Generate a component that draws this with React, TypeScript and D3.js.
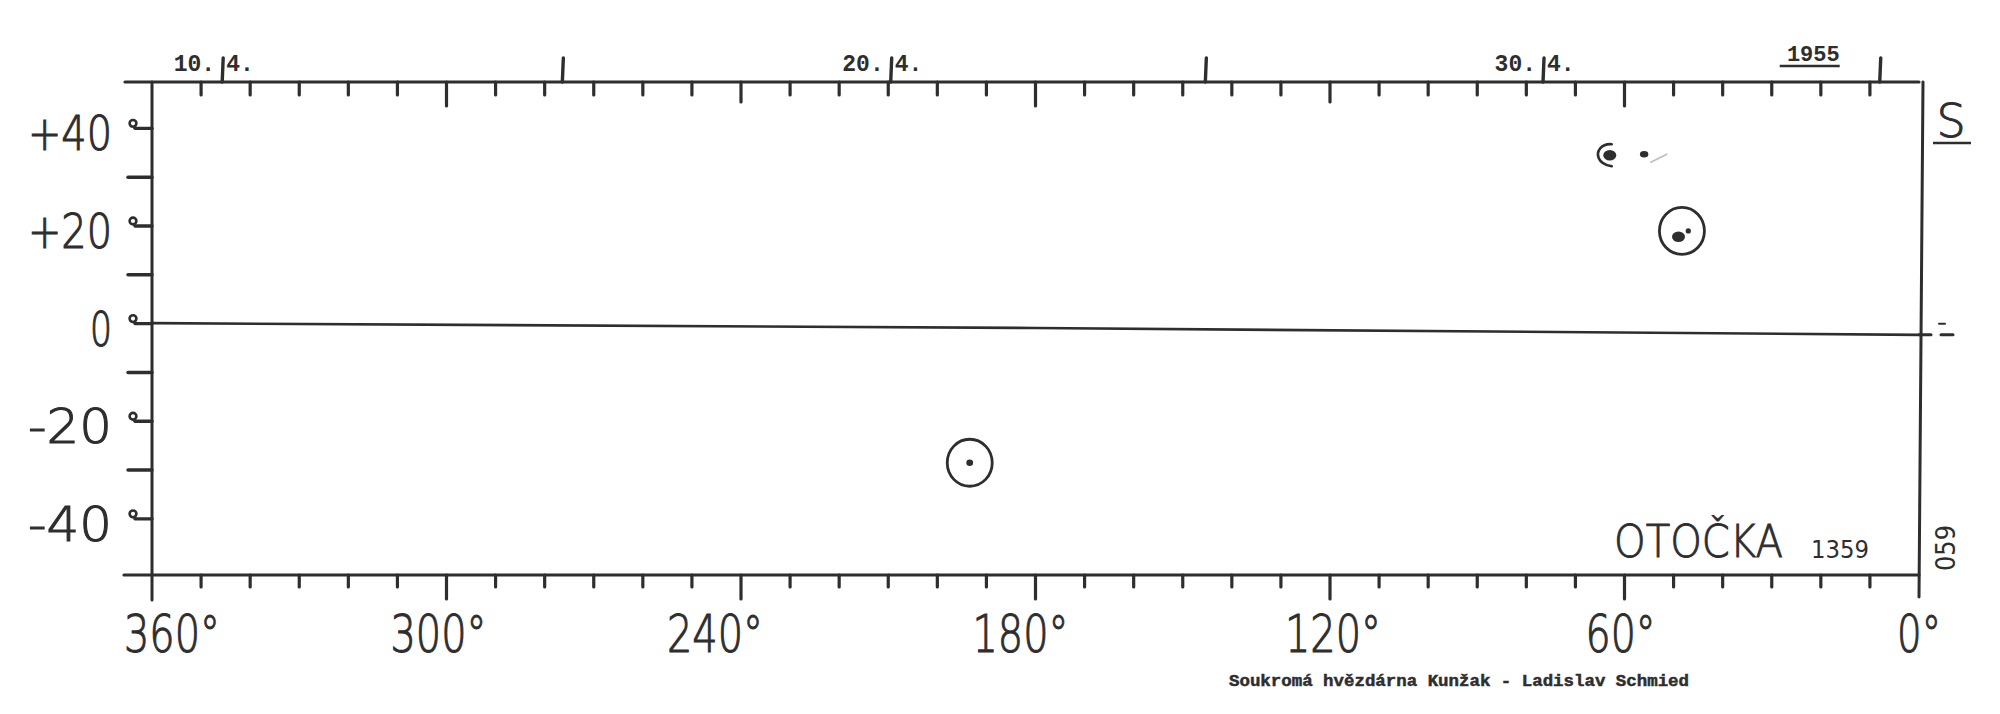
import React from "react";
import * as d3 from "d3";

// ---------- data ----------
const lonLabels = [360, 300, 240, 180, 120, 60, 0];
const lonMinorTicks = [350, 340, 330, 320, 310, 290, 280, 270, 260, 250, 230, 220, 210, 200, 190, 170, 160, 150, 140, 130, 110, 100, 90, 80, 70, 50, 40, 30, 20, 10];
const topLongTicks = [300, 180, 60];
const topMediumTicks = [240, 120];
const latLabels = [40, 20, 0, -20, -40];
const latMinorTicks = [30, 10, -10, -30];

// day markers (Carrington longitude of central meridian at 0h of the date)
const dayMarkerLon = [345.7, 276.4, 209.5, 145.4, 76.6, 8.0];
const dayMarkerDay = ["10.", "", "20.", "", "30.", ""];
const dayMarkerMonth = ["4.", "", "4.", "", "4.", ""];
const yearLabel = "1955";

// equator as traced on the sheet
const equatorLon = [360, 180, 0];
const equatorLat = [0.1, -0.9, -2.3];

// sunspot groups
const circledLon = [48.3, 193.4];
const circledLat = [19.0, -28.5];
const umbraLon = [49.0, 47.0, 63.0, 56.0, 193.4];
const umbraLat = [17.8, 19.0, 34.5, 34.7, -28.5];
const umbraKind = ["large", "small", "large", "medium", "dot"];
const penumbraLon = [63.0];
const penumbraLat = [34.5];
const trailLon = [53.0];
const trailLat = [34.3];

const sheetTitle = "OTOČKA";
const rotationNo = "1359";
const sideMark = "S";
const sheetNo = "059";
const caption = "Soukromá hvězdárna Kunžak - Ladislav Schmied";

// ---------- styles ----------
const INK = "#2e2e2e";
const DIN = "'DejaVu Sans','Liberation Sans',sans-serif";
const MONO = "'Liberation Mono','DejaVu Sans Mono',monospace";
const umbraSize: Record<string, [number, number]> = {
  large: [6.5, 5.2],
  medium: [4.2, 3.2],
  small: [2.6, 2.6],
  dot: [3.4, 3.2],
};
// hand-lettering offsets of the longitude labels (px)
const LABEL_NUDGE: Record<number, number> = { 360: 20, 300: -8, 240: -26, 180: -15, 120: 3, 60: -4, 0: 0 };

export default function App() {
  const W = 2000;
  const H = 714;
  const x = d3.scaleLinear().domain([360, 0]).range([152, 1919]);
  const y = d3.scaleLinear().domain([-51.5, 49.5]).range([575, 82]);

  const top = y(49.5);
  const bottom = y(-51.5);
  const left = x(360);
  const right = x(0);

  const eqPts = equatorLon.map((l, i) => [x(l), y(equatorLat[i])] as [number, number]);
  const eqLine = d3.line()(eqPts) || "";
  const lastEq = eqPts[eqPts.length - 1];
  const lastMarkerX = x(dayMarkerLon[dayMarkerLon.length - 1]);

  return (
    <svg
      width={W}
      height={H}
      viewBox={`0 0 ${W} ${H}`}
      style={{ position: "absolute", left: 0, top: 0, background: "#fff" }}
    >
      <rect x={0} y={0} width={W} height={H} fill="#fff" />
      <g stroke={INK} fill="none" strokeLinecap="round">
        {/* frame */}
        <line x1={left - 27} y1={top} x2={right} y2={top} strokeWidth={3.2} />
        <line x1={left - 28} y1={bottom} x2={right} y2={bottom} strokeWidth={3.2} />
        <line x1={left} y1={top} x2={left} y2={bottom + 25} strokeWidth={3} />
        <line x1={right + 4} y1={top} x2={right} y2={bottom + 22} strokeWidth={3} />

        {/* equator */}
        <path d={eqLine} strokeWidth={2.6} />
        <line x1={lastEq[0]} y1={lastEq[1]} x2={lastEq[0] + 12} y2={lastEq[1]} strokeWidth={3} />
        <line x1={lastEq[0] + 22} y1={lastEq[1]} x2={lastEq[0] + 34} y2={lastEq[1]} strokeWidth={3} />
        <line x1={lastEq[0] + 20} y1={lastEq[1] - 11} x2={lastEq[0] + 26} y2={lastEq[1] - 11} strokeWidth={2} />

        {/* bottom ticks */}
        {lonMinorTicks.map((l) => (
          <line key={"bm" + l} x1={x(l)} y1={bottom} x2={x(l)} y2={bottom + 12} strokeWidth={3.2} />
        ))}
        {lonLabels.filter((l) => l !== 360 && l !== 0).map((l) => (
          <line key={"bl" + l} x1={x(l)} y1={bottom} x2={x(l)} y2={bottom + 24} strokeWidth={3.2} />
        ))}

        {/* top ticks */}
        {lonMinorTicks.map((l) => (
          <line key={"tm" + l} x1={x(l)} y1={top} x2={x(l)} y2={top + 13} strokeWidth={3.2} />
        ))}
        {topMediumTicks.map((l) => (
          <line key={"tmd" + l} x1={x(l)} y1={top} x2={x(l)} y2={top + 20} strokeWidth={3.2} />
        ))}
        {topLongTicks.map((l) => (
          <line key={"tl" + l} x1={x(l)} y1={top} x2={x(l)} y2={top + 24} strokeWidth={3.2} />
        ))}
        {/* day markers (upwards) */}
        {dayMarkerLon.map((l, i) => (
          <line key={"dm" + i} x1={x(l)} y1={top} x2={x(l) + 1} y2={top - 24} strokeWidth={3.4} />
        ))}

        {/* latitude ticks */}
        {latMinorTicks.map((b) => (
          <line key={"ym" + b} x1={left - 24} y1={y(b)} x2={left} y2={y(b)} strokeWidth={3.4} />
        ))}
        {latLabels.map((b) => (
          <g key={"yl" + b}>
            <line x1={left - 17} y1={y(b)} x2={left} y2={y(b)} strokeWidth={3.4} />
            <circle cx={left - 19} cy={y(b) - 5} r={3.4} strokeWidth={2.6} />
          </g>
        ))}

        {/* circled groups */}
        {circledLon.map((l, i) => (
          <ellipse key={"cg" + i} cx={x(l)} cy={y(circledLat[i])} rx={22.5} ry={23.5} strokeWidth={2.8} />
        ))}
        {/* penumbra outline */}
        {penumbraLon.map((l, i) => (
          <path
            key={"pn" + i}
            d={`M${x(l) + 2},${y(penumbraLat[i]) - 11} C${x(l) - 8},${y(penumbraLat[i]) - 12} ${x(l) - 14},${y(penumbraLat[i]) - 4} ${x(l) - 11},${y(penumbraLat[i]) + 3} C${x(l) - 9},${y(penumbraLat[i]) + 8} ${x(l) - 4},${y(penumbraLat[i]) + 10} ${x(l) + 2},${y(penumbraLat[i]) + 11}`}
            strokeWidth={2.6}
          />
        ))}
        {trailLon.map((l, i) => (
          <path
            key={"tr" + i}
            d={`M${x(l) - 8},${y(trailLat[i]) + 6} Q${x(l)},${y(trailLat[i]) + 2} ${x(l) + 8},${y(trailLat[i]) - 2}`}
            stroke="#bdbdbd"
            strokeWidth={1.6}
          />
        ))}
      </g>

      {/* umbrae */}
      <g fill={INK}>
        {umbraLon.map((l, i) => (
          <ellipse
            key={"u" + i}
            cx={x(l)}
            cy={y(umbraLat[i])}
            rx={umbraSize[umbraKind[i]][0]}
            ry={umbraSize[umbraKind[i]][1]}
          />
        ))}
      </g>

      {/* longitude labels */}
      <g fill={INK} stroke={INK} strokeWidth={1.1} fontFamily={DIN} fontWeight={200} fontSize={52} textAnchor="middle">
        {lonLabels.map((l) => {
          const s = l + "°";
          return (
            <text
              key={"lt" + l}
              x={x(l) + LABEL_NUDGE[l]}
              y={bottom + 77}
              textLength={26 * (s.length - 1) + 18}
              lengthAdjust="spacingAndGlyphs"
            >
              {s}
            </text>
          );
        })}
      </g>

      {/* latitude labels */}
      <g fill={INK} stroke={INK} strokeWidth={1.1} fontFamily={DIN} fontWeight={200} fontSize={48} textAnchor="end">
        {latLabels.map((b) => {
          const s = b > 0 ? "+" + b : b < 0 ? "-" + Math.abs(b) : "0";
          return (
            <text
              key={"la" + b}
              x={left - 40}
              y={y(b) + 22}
              textLength={s.length === 1 ? 22 : 84}
              lengthAdjust="spacingAndGlyphs"
            >
              {s}
            </text>
          );
        })}
      </g>

      {/* top date labels */}
      <g fill={INK} fontFamily={MONO} fontWeight="bold" fontSize={23}>
        {dayMarkerLon.map((l, i) =>
          dayMarkerDay[i] ? (
            <g key={"dl" + i}>
              <text x={x(l) - 7} y={top - 11} textAnchor="end">
                {dayMarkerDay[i]}
              </text>
              <text x={x(l) + 4} y={top - 11} textAnchor="start">
                {dayMarkerMonth[i]}
              </text>
            </g>
          ) : null
        )}
        <text x={lastMarkerX - 40} y={top - 21} textAnchor="end" fontSize={22}>
          {yearLabel}
        </text>
        <line x1={lastMarkerX - 100} y1={top - 16} x2={lastMarkerX - 40} y2={top - 16} stroke={INK} strokeWidth={2.4} />
      </g>

      {/* right side marks */}
      <text x={right + 32} y={top + 55} fill={INK} stroke={INK} strokeWidth={1} fontFamily={DIN} fontWeight={200} fontSize={46} textAnchor="middle">
        {sideMark}
      </text>
      <line x1={right + 14} y1={top + 61} x2={right + 52} y2={top + 61} stroke={INK} strokeWidth={2.6} />
      <text
        transform={`translate(${right + 36},${bottom - 27}) rotate(-90)`}
        fill={INK}
        fontFamily={DIN}
        fontSize={26}
        textAnchor="middle"
        textLength={46}
        lengthAdjust="spacingAndGlyphs"
      >
        {sheetNo}
      </text>

      {/* title */}
      <text
        x={right - 305}
        y={bottom - 18}
        fill={INK}
        stroke={INK}
        strokeWidth={0.9}
        fontFamily={DIN}
        fontWeight={200}
        fontSize={45}
        textLength={169}
        lengthAdjust="spacingAndGlyphs"
      >
        {sheetTitle}
      </text>
      <text
        x={right - 108}
        y={bottom - 17}
        fill={INK}
        fontFamily={DIN}
        fontSize={25}
        textLength={58}
        lengthAdjust="spacingAndGlyphs"
      >
        {rotationNo}
      </text>

      {/* caption */}
      <text
        x={1229}
        y={686}
        fill={INK}
        stroke={INK}
        strokeWidth={0.5}
        fontFamily={MONO}
        fontWeight="bold"
        fontSize={17}
        textLength={460}
        lengthAdjust="spacingAndGlyphs"
      >
        {caption}
      </text>
    </svg>
  );
}
